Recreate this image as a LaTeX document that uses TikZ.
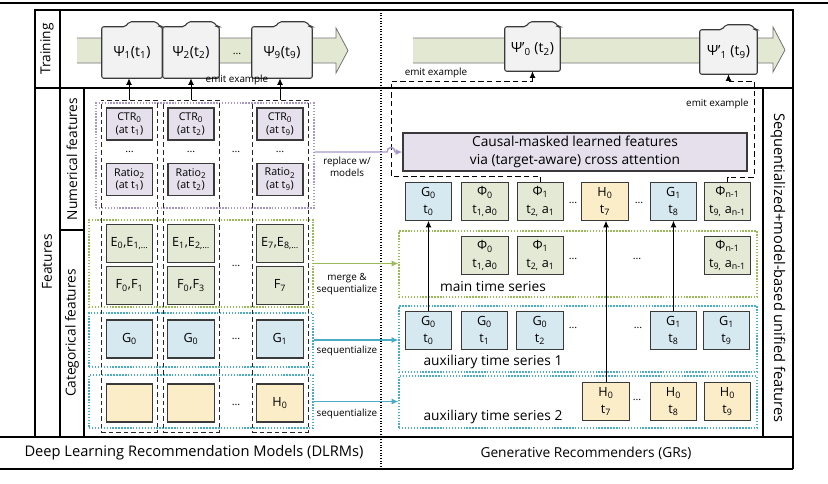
\documentclass[tikz,border=0pt]{standalone}
\usepackage{fontspec}
\setmainfont{Open Sans}
\usepackage{tikz}
\usetikzlibrary{arrows.meta}
\usetikzlibrary{positioning}
\usetikzlibrary{calc}
\usetikzlibrary{backgrounds}

\definecolor{lavfill}{HTML}{E5E0EC}
\definecolor{lavline}{HTML}{A898C8}
\definecolor{grnfill}{HTML}{E4E9D5}
\definecolor{grnline}{HTML}{9BBB59}
\definecolor{blufill}{HTML}{D7E9F0}
\definecolor{bluline}{HTML}{4BACC6}
\definecolor{ylwfill}{HTML}{FCEDC9}
\definecolor{bandfill}{HTML}{E3E8D2}
\definecolor{fldfill}{HTML}{F2F2F2}
\definecolor{edge}{HTML}{3A3A3A}

\newcommand{\sbs}[1]{\textsubscript{#1}}
\newcommand{\tinyfs}{\fontsize{7.4}{8.8}\selectfont}
\newcommand{\numfs}{\fontsize{8}{9.5}\selectfont}
\newcommand{\cellfs}{\fontsize{9.5}{13}\selectfont}
\newcommand{\mainfs}{\fontsize{10.3}{13.5}\selectfont}
\newcommand{\bigfs}{\fontsize{11}{13.5}\selectfont}
\newcommand{\psifs}{\fontsize{10.5}{12}\selectfont}

\tikzstyle{cell}=[draw=edge,line width=0.9pt,inner sep=0pt,align=center,font=\cellfs,minimum width=35pt,minimum height=28pt]
\tikzstyle{numcell}=[cell,fill=lavfill,font=\numfs,minimum width=34.5pt,minimum height=24pt]
\tikzstyle{grncell}=[cell,fill=grnfill]
\tikzstyle{blucell}=[cell,fill=blufill]
\tikzstyle{ylwcell}=[cell,fill=ylwfill]
\tikzstyle{colbox}=[draw=black!85,line width=0.75pt,dash pattern=on 3.5pt off 2.2pt,minimum width=42pt,minimum height=249pt,inner sep=0pt]
\tikzstyle{grp}=[line width=0.9pt,dash pattern=on 1.1pt off 1.1pt,inner sep=0pt]
\tikzstyle{psi}=[inner sep=0pt,font=\psifs]
\tikzstyle{fold}=[draw=edge,fill=fldfill,line width=0.8pt,rounded corners=1.5pt]
\tikzstyle{arr}=[-{Latex[length=5pt,width=4.5pt]}]
\tikzstyle{emit}=[arr,line width=0.75pt,dash pattern=on 4pt off 2.5pt]
\tikzstyle{ellip}=[font=\numfs,inner sep=0pt]
\tikzstyle{smalllbl}=[font=\tinyfs,align=center,inner sep=0pt]
\tikzstyle{band}=[fill=bandfill,draw=black!55,line width=0.6pt]

% folder outline behind a psi node
\newcommand{\folder}[1]{%
  \draw[fold] (#1.south west) -- (#1.north west) -- ($(#1.north)+(-5pt,0)$) -- ++(3pt,3.75pt)
    -- ($(#1.north east)+(-4.5pt,3.75pt)$) -- ++(3pt,-3.75pt) -- (#1.north east) -- (#1.south east) -- cycle;}

\begin{document}
\begin{tikzpicture}[x=0.75pt,y=-0.75pt]
\useasboundingbox (0,0) rectangle (828,483);

% frame
\draw[line width=1.6pt] (0,3) -- (828,3);
\draw[line width=1pt] (35,437) -- (35,10) -- (793,10) -- (793,469);
\draw[line width=1.6pt] (35,88) -- (793,88);
\draw[line width=0.8pt] (60,10) -- (60,437);
\draw[line width=0.8pt] (84,88) -- (84,437);
\draw[line width=0.8pt] (60,230) -- (84,230);
\draw[line width=0.8pt] (763,88) -- (763,437);
\draw[line width=1.4pt] (0,437) -- (793,437);
\draw[line width=1.4pt] (0,469) -- (793,469);
\draw[line width=0.8pt,dash pattern=on 0.8pt off 1.2pt] (381,10) -- (381,469);

\node[rotate=90,font=\mainfs] (trn) at (47,49) {Training};
\node[rotate=90,font=\mainfs] (fts) at (47,262) {Features};
\node[rotate=90,font=\mainfs] (numf) at (72,159) {Numerical features};
\node[rotate=90,font=\mainfs] (catf) at (72,333) {Categorical features};
\node[rotate=-90,font=\bigfs] (seqf) at (778,268) {Sequentialized+model-based unified features};
\node[font=\bigfs] (dlrm) at (194,453) {Deep Learning Recommendation Models (DLRMs)};
\node[font=\mainfs] (gr) at (586,453) {Generative Recommenders (GRs)};

% training row
\node[psi,minimum width=45pt,minimum height=38.25pt] (psi1) at (132,52.5) {Ψ\sbs{1}(t\sbs{1})};
\node[psi,minimum width=42pt,minimum height=38.25pt] (psi2) at (191,52.5) {Ψ\sbs{2}(t\sbs{2})};
\node[ellip] (psid) at (237,54) {…};
\node[psi,minimum width=45pt,minimum height=38.25pt] (psi9) at (282,52.5) {Ψ\sbs{9}(t\sbs{9})};
\node[psi,minimum width=41.25pt,minimum height=33pt] (psia) at (532.5,49) {Ψ'\sbs{0} (t\sbs{2})};
\node[psi,minimum width=42.75pt,minimum height=33pt] (psib) at (728.5,52) {Ψ'\sbs{1} (t\sbs{9})};
\begin{scope}[on background layer]
  \path[band] (77,38) -- (336,38) -- (336,28) -- (348,50.5) -- (336,73) -- (336,63) -- (77,63);
  \path[band] (413,38) -- (773,38) -- (773,27) -- (785,50) -- (773,72) -- (773,63) -- (413,63);
  \foreach \p in {psi1,psi2,psi9,psia,psib} {\folder{\p}}
\end{scope}

% DLRM side
\node[grp,draw=lavline,minimum width=163.5pt,minimum height=78.75pt] (numgrp) at (205,155.5) {};
\node[grp,draw=grnline,minimum width=168pt,minimum height=65.25pt] (catgrp) at (201,263.5) {};
\node[grp,draw=bluline,minimum width=168pt,minimum height=40.5pt] (ggrp) at (201,340) {};
\node[grp,draw=bluline,minimum width=168pt,minimum height=39.75pt] (hgrp) at (201,401.5) {};
\foreach \x/\k in {129/1,191/2,280/3}
  \node[colbox] (col\k) at (\x,266) {};

\foreach \x/\k/\t/\e/\f/\g/\h in {129.5/1/1/{E\sbs{0},E\sbs{1,…}}/{F\sbs{0},F\sbs{1}}/{G\sbs{0}}/{},
    191/2/2/{E\sbs{1},E\sbs{2,…}}/{F\sbs{0},F\sbs{3}}/{G\sbs{0}}/{},
    280/3/9/{E\sbs{7},E\sbs{8,…}}/{F\sbs{7}}/{G\sbs{1}}/{H\sbs{0}}}
{
  \node[numcell] (ctr\k) at (\x,124) {CTR\sbs{0}\\(at t\sbs{\t})};
  \node[ellip] (nd\k) at (\x,152) {…};
  \node[numcell] (rat\k) at (\x,179.5) {Ratio\sbs{2}\\(at t\sbs{\t})};
  \node[grncell] (e\k) at (\x,243.5) {\e};
  \node[grncell] (f\k) at (\x,285.5) {\f};
  \node[blucell,minimum height=28.5pt] (g\k) at (\x,339) {\g};
  \node[ylwcell,minimum height=28.5pt] (h\k) at (\x,403) {\h};
}
\node[ellip] (ndn) at (236,152) {…};
\node[ellip] (nde) at (236,266) {…};
\node[ellip] (ndg) at (236,339) {…};
\node[ellip] (ndh) at (236,405) {…};

\foreach \c/\p in {col1/psi1,col2/psi2,col3/psi9}
  \draw[arr,line width=0.75pt] (\c.north) -- (\c.north |- \p.south);
\node[smalllbl] (em1) at (237,80) {emit example};

% GR side
\node[cell,fill=lavfill,font=\mainfs,minimum width=258pt,minimum height=28.5pt] (caus) at (575,152)
  {Causal-masked learned features\\via (target-aware) cross attention};
\node[grp,draw=grnline,minimum width=268.5pt,minimum height=49.5pt] (mainser) at (578,264) {};
\node[grp,draw=bluline,minimum width=268.5pt,minimum height=49.5pt] (aux1) at (578,339) {};
\node[grp,draw=bluline,minimum width=268.5pt,minimum height=39pt] (aux2) at (578,402) {};

\node[blucell] (g0t) at (428.5,201.5) {G\sbs{0}\\t\sbs{0}};
\node[grncell] (ph0t) at (485,201.5) {Φ\sbs{0}\\t\sbs{1,}a\sbs{0}};
\node[grncell] (ph1t) at (540.5,201.5) {Φ\sbs{1}\\t\sbs{2,} a\sbs{1}};
\node[ellip] (d1t) at (573,203) {…};
\node[ylwcell] (h7t) at (605,201.5) {H\sbs{0}\\t\sbs{7}};
\node[ellip] (d2t) at (639,203) {…};
\node[blucell] (g8t) at (673.5,201.5) {G\sbs{1}\\t\sbs{8}};
\node[grncell] (phnt) at (727.5,201.5) {Φ\sbs{n-1}\\t\sbs{9,} a\sbs{n-1}};

\node[grncell] (ph0m) at (485,255.5) {Φ\sbs{0}\\t\sbs{1,}a\sbs{0}};
\node[grncell] (ph1m) at (540.5,255.5) {Φ\sbs{1}\\t\sbs{2,} a\sbs{1}};
\node[ellip] (d1m) at (573,259) {…};
\node[ellip] (d2m) at (637,259) {…};
\node[grncell] (phnm) at (727.5,255.5) {Φ\sbs{n-1}\\t\sbs{9,} a\sbs{n-1}};
\node[font=\mainfs] (mts) at (493,287) {main time series};

\node[blucell] (g0a) at (428.5,330.5) {G\sbs{0}\\t\sbs{0}};
\node[blucell] (g1a) at (484.5,330.5) {G\sbs{0}\\t\sbs{1}};
\node[blucell] (g2a) at (540,330.5) {G\sbs{0}\\t\sbs{2}};
\node[ellip] (d1a) at (573,328) {…};
\node[ellip] (d2a) at (638,328) {…};
\node[blucell] (g8a) at (673.5,330.5) {G\sbs{1}\\t\sbs{8}};
\node[blucell] (g9a) at (726.5,330.5) {G\sbs{1}\\t\sbs{9}};
\node[font=\mainfs] (ats1) at (493,362) {auxiliary time series 1};

\node[ylwcell] (h7b) at (606,401.5) {H\sbs{0}\\t\sbs{7}};
\node[ellip] (d1b) at (637,400) {…};
\node[ylwcell] (h8b) at (673.5,401.5) {H\sbs{0}\\t\sbs{8}};
\node[ylwcell] (h9b) at (727.5,401.5) {H\sbs{0}\\t\sbs{9}};
\node[font=\mainfs] (ats2) at (493,417) {auxiliary time series 2};

\draw[arr,line width=0.75pt] (g0a.north) -- (g0t.south);
\draw[arr,line width=0.75pt] (h7b.north) -- (h7b.north |- h7t.south);
\draw[arr,line width=0.75pt] (g8a.north) -- (g8t.south);

% emit paths
\coordinate (ea1) at (391,176);
\coordinate (ea2) at (391,81);
\draw[emit] (ph1t.north) |- (ea1) -- (ea2) -| (psia.south);
\coordinate (eb1) at (754,177);
\coordinate (eb2) at (754,81);
\draw[emit] (phnt.north) |- (eb1) -- (eb2) -| (psib.south);
\node[smalllbl] (em2) at (436,73) {emit example};
\node[smalllbl,anchor=east] (em3) at (749,104) {emit example};

% DLRM -> GR
\draw[lavline,line width=1pt,arr] (numgrp.east |- caus.west) -- (387,152)
  .. controls (387,146) and (395,146) .. (395,152) -- (caus.west);
\draw[grnline,line width=1pt,arr] (catgrp.east) -- (catgrp.east -| mainser.west);
\draw[bluline,line width=1pt,arr] (ggrp.east) -- (ggrp.east -| aux1.west);
\draw[bluline,line width=1pt,arr] (hgrp.east) -- (hgrp.east -| aux2.west);
\node[smalllbl] (rpl) at (347,167) {replace w/\\models};
\node[smalllbl] (mrg) at (347,284) {merge \&\\sequentialize};
\node[smalllbl] (sq1) at (347,351) {sequentialize};
\node[smalllbl] (sq2) at (347,414) {sequentialize};
\end{tikzpicture}
\end{document}
